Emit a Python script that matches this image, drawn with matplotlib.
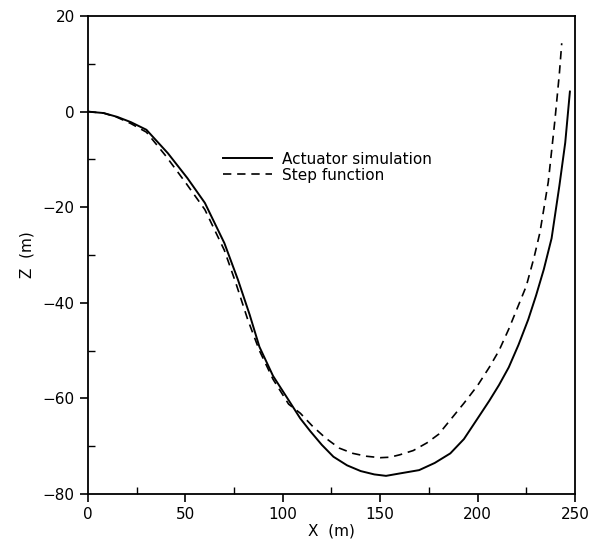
import matplotlib.pyplot as plt
from matplotlib.ticker import MultipleLocator

# actuator simulation (solid)
x_act = [0, 8, 15, 22, 30, 41, 51, 60, 70, 77, 83, 88, 95, 104, 109, 114, 120, 126,
         133, 140, 147, 153, 160, 170, 178, 186, 193, 200, 206, 211, 216, 221, 226,
         230, 234, 238, 242, 245, 247.4]
z_act = [0, -0.3, -1.1, -2.2, -3.8, -8.7, -13.9, -19.1, -27.5, -35.2, -42.5, -49.2,
         -55.3, -61, -64.2, -66.8, -69.7, -72.2, -74, -75.2, -75.9, -76.2, -75.7, -75,
         -73.5, -71.5, -68.5, -64.2, -60.5, -57.2, -53.5, -48.8, -43.5, -38.5, -33,
         -26.5, -15.5, -6.5, 4.2]

# step function (dashed)
x_step = [0, 8, 15, 22, 30, 40, 50, 60, 70, 76, 82, 88, 95, 103, 109, 115, 122, 129,
          136, 143, 150, 155, 160, 167, 174, 180, 186, 193, 200, 206, 211, 216, 221,
          225, 229, 232, 236.3, 239.7, 242, 243.2]
z_step = [0, -0.3, -1.2, -2.5, -4.3, -9.3, -14.8, -20.5, -29, -36, -43.5, -50, -56,
          -61.2, -63.1, -65.7, -68.3, -70.4, -71.5, -72.1, -72.4, -72.3, -71.8, -70.9,
          -69.3, -67.5, -64.5, -61, -57.3, -53.5, -50, -45.5, -40.5, -36.5, -30.5,
          -25.3, -14.7, -1.8, 8, 14.3]

fig = plt.figure(figsize=(5.93, 5.43), dpi=100)
ax = fig.add_axes([0.1484, 0.0902, 0.8212, 0.8803])

ax.plot(x_act, z_act, 'k-', linewidth=1.4, label='Actuator simulation')
ax.plot(x_step, z_step, 'k--', linewidth=1.2, dashes=(5, 3.5), label='Step function')

ax.set_xlim(0, 250)
ax.set_ylim(-80, 20)
ax.xaxis.set_major_locator(MultipleLocator(50))
ax.xaxis.set_minor_locator(MultipleLocator(25))
ax.yaxis.set_major_locator(MultipleLocator(20))
ax.yaxis.set_minor_locator(MultipleLocator(10))
ax.tick_params(which='major', direction='out', length=6, width=1.2, labelsize=11)
ax.tick_params(which='minor', direction='in', length=5, width=1)
for s in ax.spines.values():
    s.set_linewidth(1.3)

ax.set_xlabel('X  (m)', fontsize=11, labelpad=1)
ax.set_ylabel('Z  (m)', fontsize=11, labelpad=6)

ax.legend(loc='upper left', bbox_to_anchor=(0.277, 0.716), frameon=False,
          fontsize=11, handlelength=3.2, handletextpad=0.7, labelspacing=0.05,
          borderpad=0, borderaxespad=0)

fig.savefig('out.png', dpi=100)
